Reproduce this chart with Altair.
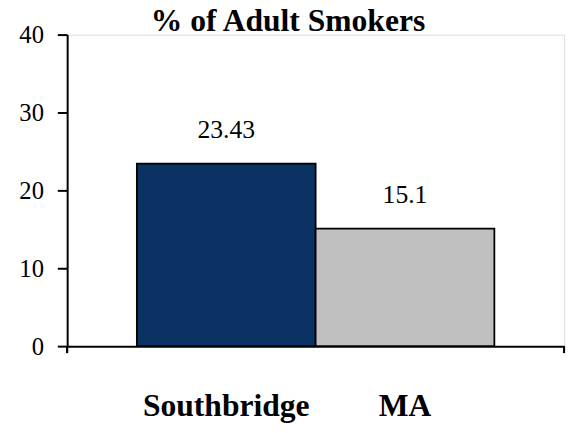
import altair as alt
import pandas as pd

categories = ["Southbridge", "MA"]
values = [23.43, 15.1]
colors = ["#0a3262", "#c0c0c0"]

df = pd.DataFrame({"place": categories, "pct": values, "color": colors})

W, H = 504, 316
serif = "Liberation Serif"

xscale = alt.Scale(domain=categories, paddingInner=0, paddingOuter=0.39)
yscale = alt.Scale(domain=[0, 40])

base = alt.Chart(df)

bars = base.mark_bar(stroke="black", strokeWidth=1.8).encode(
    x=alt.X("place:N", scale=xscale, sort=categories, title=None),
    y=alt.Y("pct:Q", scale=yscale, title=None, axis=alt.Axis(values=[0, 10, 20, 30, 40])),
    color=alt.Color("color:N", scale=None),
)

labels = base.mark_text(font=serif, fontSize=26, baseline="alphabetic", dy=-26, color="black").encode(
    x=alt.X("place:N", scale=xscale, sort=categories, title=None),
    y=alt.Y("pct:Q", scale=yscale, title=None),
    text=alt.Text("pct:Q"),
)

tick_left = base.mark_rule(color="black", strokeWidth=2).encode(
    x=alt.value(0), y=alt.value(H), y2=alt.value(H + 7),
)
tick_right = base.mark_rule(color="black", strokeWidth=2).encode(
    x=alt.value(W), y=alt.value(H), y2=alt.value(H + 7),
)

chart = alt.layer(bars, labels, tick_left, tick_right).properties(
    width=W, height=H,
    title=alt.TitleParams("% of Adult Smokers", font=serif, fontSize=32, fontWeight="bold",
                          color="black", anchor="middle", dx=-28, offset=-15),
    autosize=alt.AutoSizeParams(type="none"),
    padding={"left": 60, "top": 24, "right": 5, "bottom": 77},
).configure_view(strokeWidth=0).configure(background="white").configure_axisX(
    labelAngle=0, labelFont=serif, labelFontSize=32, labelFontWeight="bold",
    labelColor="black", ticks=False, domainColor="black", domainWidth=2,
    labelPadding=70, labelBaseline="alphabetic", grid=False,
).configure_axisY(
    grid=False, labelFont=serif, labelFontSize=25, labelColor="black",
    tickColor="black", tickSize=10, tickWidth=2, domainColor="black",
    domainWidth=2, labelPadding=14,
)

chart.save("out.html", embed_options={"renderer": "svg", "actions": False})
